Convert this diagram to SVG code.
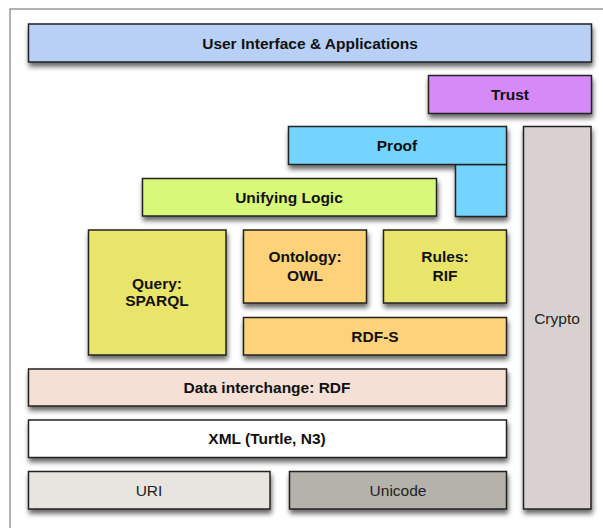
<svg xmlns="http://www.w3.org/2000/svg" width="603" height="528" viewBox="0 0 603 528">
  <defs>
    <filter id="shadow" x="-10%" y="-20%" width="130%" height="160%">
      <feDropShadow dx="1" dy="4" stdDeviation="2.5" flood-color="#000" flood-opacity="0.6"/>
    </filter>
  </defs>
  <style>
    .box { stroke: #222; stroke-width: 1.5; }
    .lbl { font-family: "Liberation Sans", Arial, sans-serif; font-size: 15.5px; font-weight: bold; fill: #111; text-anchor: middle; }
    .plain { font-family: "Liberation Sans", Arial, sans-serif; font-size: 15.5px; fill: #222; text-anchor: middle; }
  </style>

  <rect width="603" height="528" fill="#fff"/>
  <!-- outer frame, open to the right and bottom -->
  <rect x="10" y="9" width="700" height="600" fill="none" stroke="#666" stroke-width="1"/>

  <g id="connectors"/>

  <g id="ui" filter="url(#shadow)">
    <rect class="box" x="28.5" y="24" width="563" height="38" fill="#b8d0f6"/>
  </g>
  <text class="lbl" x="310" y="48.5">User Interface &amp; Applications</text>

  <g id="trust" filter="url(#shadow)">
    <rect class="box" x="428.5" y="75.5" width="163" height="38" fill="#d68af8"/>
  </g>
  <text class="lbl" x="510" y="99.5">Trust</text>

  <g id="proof" filter="url(#shadow)">
    <rect class="box" x="455.5" y="164.5" width="51" height="52" fill="#74d4fe"/>
    <rect class="box" x="288.5" y="126.5" width="218" height="38" fill="#74d4fe"/>
  </g>
  <text class="lbl" x="397" y="150.5">Proof</text>

  <g id="crypto" filter="url(#shadow)">
    <rect class="box" x="523.5" y="126.5" width="67.5" height="382.5" fill="#d9d1cf"/>
  </g>
  <text class="plain" x="557" y="323.5">Crypto</text>

  <g id="unifying-logic" filter="url(#shadow)">
    <rect class="box" x="142.5" y="178.5" width="294" height="37.5" fill="#d8f87a"/>
  </g>
  <text class="lbl" x="289" y="202.5">Unifying Logic</text>

  <g id="query" filter="url(#shadow)">
    <rect class="box" x="88.5" y="230" width="137.5" height="125" fill="#e8e56b"/>
  </g>
  <text class="lbl" x="157" y="288.5">Query:</text>
  <text class="lbl" x="157" y="306">SPARQL</text>

  <g id="ontology" filter="url(#shadow)">
    <rect class="box" x="243.5" y="230" width="123" height="73" fill="#fed27a"/>
  </g>
  <text class="lbl" x="305" y="262">Ontology:</text>
  <text class="lbl" x="305" y="280.5">OWL</text>

  <g id="rules" filter="url(#shadow)">
    <rect class="box" x="383.5" y="230" width="123" height="73" fill="#e8e56b"/>
  </g>
  <text class="lbl" x="445" y="262">Rules:</text>
  <text class="lbl" x="445" y="280.5">RIF</text>

  <g id="rdfs" filter="url(#shadow)">
    <rect class="box" x="243.5" y="317.5" width="263" height="37.5" fill="#fed27a"/>
  </g>
  <text class="lbl" x="375" y="341.5">RDF-S</text>

  <g id="rdf" filter="url(#shadow)">
    <rect class="box" x="28.5" y="369" width="478" height="37" fill="#f5e0d6"/>
  </g>
  <text class="lbl" x="267" y="392.5">Data interchange: RDF</text>

  <g id="xml" filter="url(#shadow)">
    <rect class="box" x="28.5" y="420" width="478" height="37.5" fill="#ffffff"/>
  </g>
  <text class="lbl" x="267" y="443.5">XML (Turtle, N3)</text>

  <g id="uri" filter="url(#shadow)">
    <rect class="box" x="28.5" y="471.5" width="241.5" height="37.5" fill="#e8e4df"/>
  </g>
  <text class="plain" x="149" y="495.5">URI</text>

  <g id="unicode" filter="url(#shadow)">
    <rect class="box" x="289.5" y="471.5" width="217" height="37.5" fill="#b5b1ab"/>
  </g>
  <text class="plain" x="398" y="495.5">Unicode</text>
</svg>
